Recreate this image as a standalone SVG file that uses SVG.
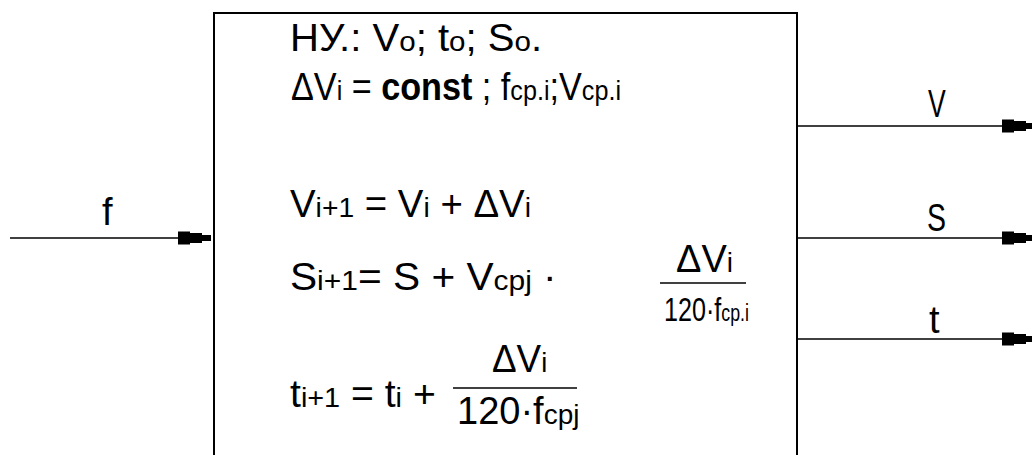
<svg xmlns="http://www.w3.org/2000/svg" width="1032" height="455" viewBox="0 0 1032 455">
<style>
text{font-family:"Liberation Sans",Arial,sans-serif;font-size:38px;fill:#000}
.s{font-size:28px}
.b{font-weight:bold}
.d{font-size:34px}
.d .s{font-size:24px}
.conn line{stroke:#000;stroke-width:1.6}
.bar{stroke:#000;stroke-width:1.6}
</style>
<defs>
<marker id="ah" viewBox="0 -7 33 14" markerWidth="33" markerHeight="14" refX="33" refY="0" orient="auto" markerUnits="userSpaceOnUse">
<path d="M0,-6.5H12V-5H24V-3H33V3H24V5H12V6.5H0Z" fill="#000"/>
</marker>
</defs>
<rect width="1032" height="455" fill="#fff"/>
<g id="block">
<rect x="214" y="13" width="583" height="470" fill="none" stroke="#000" stroke-width="2"/>
<text transform="matrix(1.055,0,0,1,290,51)">НУ.: V<tspan class="s">o</tspan>; t<tspan class="s">o</tspan>; S<tspan class="s">o</tspan>.</text>
<text transform="matrix(0.9,0,0,1,291,100)">ΔV<tspan class="s">i</tspan> = <tspan class="b">const</tspan> ; f<tspan class="s">ср.i</tspan>;V<tspan class="s">ср.i</tspan></text>
<text transform="matrix(1.01,0,0,1,290,217)">V<tspan class="s">i+1</tspan> = V<tspan class="s">i</tspan> + ΔV<tspan class="s">i</tspan></text>
<text transform="matrix(1.07,0,0,1,290,290)">S<tspan class="s">i+1</tspan>= S + V<tspan class="s">срj</tspan> ·</text>
<text transform="matrix(1.0,0,0,1,676,272)">ΔV<tspan class="s">i</tspan></text>
<line class="bar" x1="660" y1="283" x2="746" y2="283"/>
<text class="d" transform="matrix(0.74,0,0,1,664,321)">120·f<tspan class="s">ср.i</tspan></text>
<text transform="matrix(1.03,0,0,1,290,407)">t<tspan class="s">i+1</tspan> = t<tspan class="s">i</tspan> +</text>
<text transform="matrix(0.97,0,0,1,492,372)">ΔV<tspan class="s">i</tspan></text>
<line class="bar" x1="453" y1="388" x2="577" y2="388"/>
<text transform="matrix(1.0,0,0,1,457,424)">120·f<tspan class="s">срj</tspan></text>
</g>
<g id="connectors" class="conn">
<line x1="10" y1="238" x2="211" y2="238" marker-end="url(#ah)"/>
<line x1="797" y1="126" x2="1035" y2="126" marker-end="url(#ah)"/>
<line x1="797" y1="238" x2="1035" y2="238" marker-end="url(#ah)"/>
<line x1="797" y1="339" x2="1035" y2="339" marker-end="url(#ah)"/>
</g>
<g id="labels">
<text transform="matrix(1,0,0,1,102,225)">f</text>
<text transform="matrix(0.7,0,0,1,928,117)">V</text>
<text transform="matrix(0.75,0,0,1,927,231)">S</text>
<text transform="matrix(1,0,0,1,929,333)">t</text>
</g>
</svg>
